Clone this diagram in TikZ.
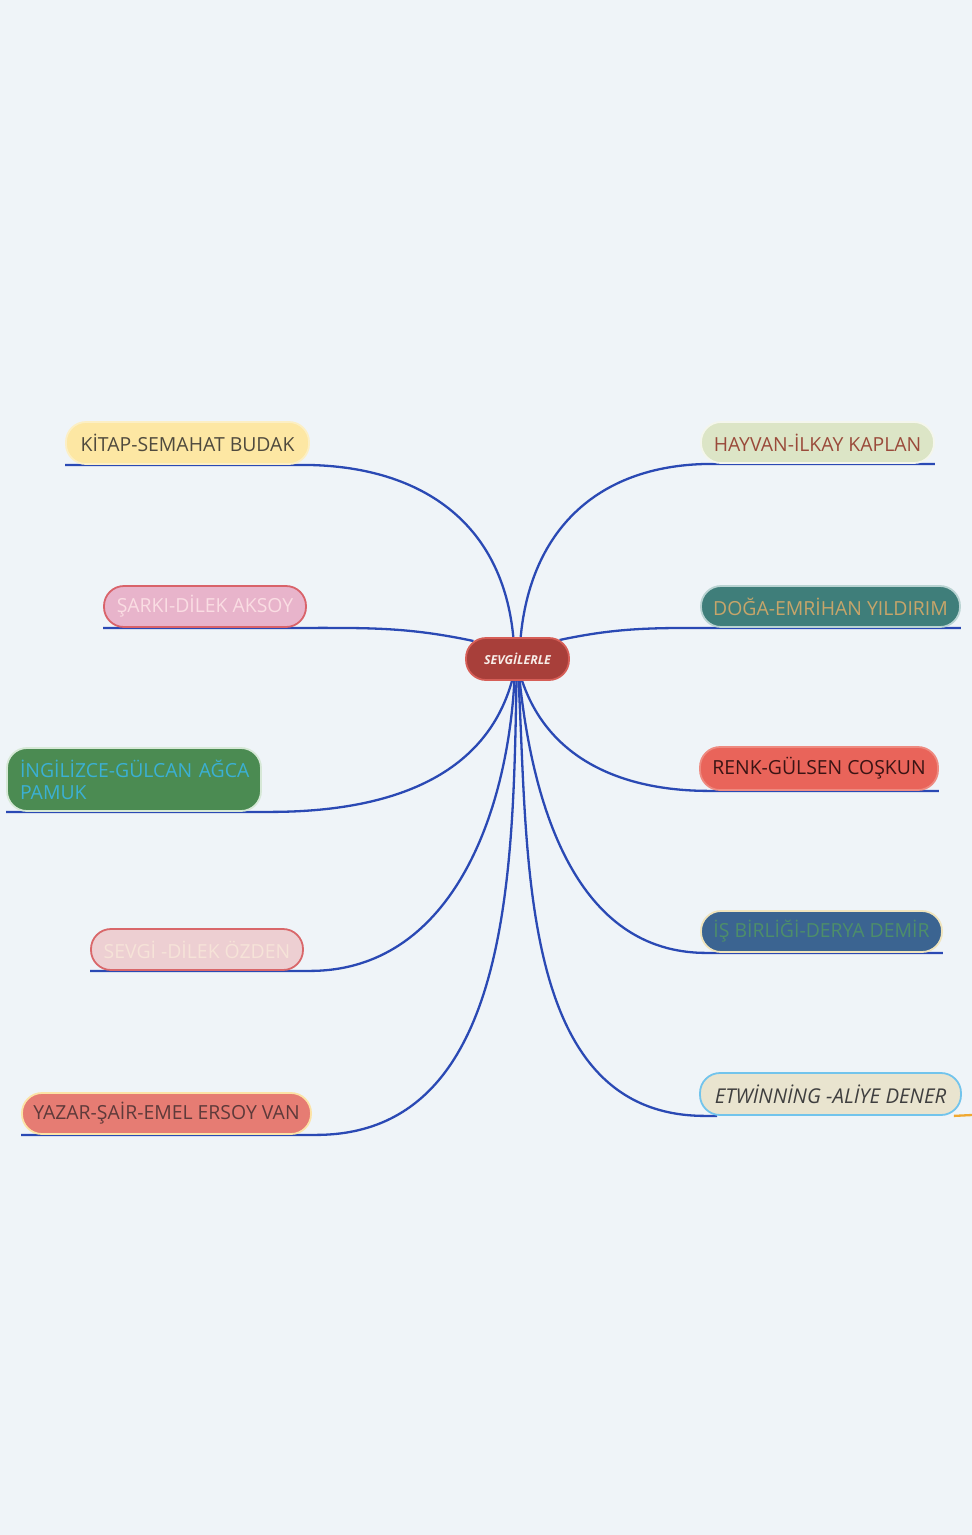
\documentclass[tikz,border=0pt]{standalone}
\usepackage{fontspec}
\setmainfont{Open Sans}
\usetikzlibrary{calc}
\definecolor{bg}{HTML}{EFF4F8}
\definecolor{link}{HTML}{2A49B4}
\definecolor{orng}{HTML}{F0A830}
\definecolor{kitF}{HTML}{FDE7A3}\definecolor{kitD}{HTML}{FCEFC4}\definecolor{kitT}{HTML}{4F4A3E}
\definecolor{hayF}{HTML}{DCE5C6}\definecolor{hayD}{HTML}{F4F6EC}\definecolor{hayT}{HTML}{9A4A3A}
\definecolor{sarF}{HTML}{E8B4CB}\definecolor{sarD}{HTML}{D9636A}\definecolor{sarT}{HTML}{FADDE3}
\definecolor{dogF}{HTML}{3F7E7A}\definecolor{dogD}{HTML}{B9D3D2}\definecolor{dogT}{HTML}{C7A56A}
\definecolor{ingF}{HTML}{4B8B52}\definecolor{ingD}{HTML}{D6E8D6}\definecolor{ingT}{HTML}{3BB0D4}
\definecolor{renF}{HTML}{E9645A}\definecolor{renD}{HTML}{EE8A80}\definecolor{renT}{HTML}{3A1414}
\definecolor{sevF}{HTML}{EDCFD2}\definecolor{sevD}{HTML}{D9676A}\definecolor{sevT}{HTML}{F6E3D8}
\definecolor{isF}{HTML}{3B6491}\definecolor{isD}{HTML}{F0E4BC}\definecolor{isT}{HTML}{4D8E6A}
\definecolor{yazF}{HTML}{E67C73}\definecolor{yazD}{HTML}{FCE3A6}\definecolor{yazT}{HTML}{5E3A3A}
\definecolor{etwF}{HTML}{E9E4CF}\definecolor{etwD}{HTML}{72C4EC}\definecolor{etwT}{HTML}{3F3F3F}
\definecolor{cF}{HTML}{A83F3A}\definecolor{cD}{HTML}{D65E57}\definecolor{cT}{HTML}{F7EDE8}
\pgfdeclarelayer{back}\pgfdeclarelayer{links}
\pgfsetlayers{back,links,main}
\begin{document}
\begin{tikzpicture}[x=1pt,y=1pt,
  box/.style={rounded corners=20pt, line width=1.8pt, inner sep=0pt, font=\fontsize{19.4}{23}\selectfont},
  conn/.style={draw=link, line width=2.3pt},
]
\begin{pgfonlayer}{back}
\fill[bg] (0,0) rectangle (972,-1535);
\end{pgfonlayer}
\useasboundingbox (0,0) rectangle (972,-1535);

\node[box, fill=cF, draw=cD, text=cT, minimum width=103pt, minimum height=42pt, font=\fontsize{12.4}{14}\selectfont\bfseries\itshape] (c) at (517.5,-659) {SEVGİLERLE};
\node[box, fill=kitF, draw=kitD, text=kitT, minimum width=243pt, minimum height=42pt] (kit) at (187.5,-443) {KİTAP-SEMAHAT BUDAK};
\node[box, fill=hayF, draw=hayD, text=hayT, minimum width=233pt, minimum height=41pt] (hay) at (817.5,-442.5) {HAYVAN-İLKAY KAPLAN};
\node[box, fill=sarF, draw=sarD, text=sarT, minimum width=202pt, minimum height=41pt] (sar) at (205,-606.5) {ŞARKI-DİLEK AKSOY};
\node[box, fill=dogF, draw=dogD, text=dogT, minimum width=259pt, minimum height=41pt] (dog) at (830.5,-606.5) {DOĞA-EMRİHAN YILDIRIM};
\node[box, fill=ingF, draw=ingD, text=ingT, text width=228pt, inner xsep=13pt, align=left, minimum height=63pt, font=\fontsize{19.4}{22}\selectfont] (ing) at (134,-779.5) {\mbox{İNGİLİZCE-GÜLCAN AĞCA}\\PAMUK};
\node[box, fill=renF, draw=renD, text=renT, minimum width=238pt, minimum height=43pt] (ren) at (819,-768.5) {RENK-GÜLSEN COŞKUN};
\node[box, fill=sevF, draw=sevD, text=sevT, minimum width=212pt, minimum height=41pt] (sev) at (197,-949.5) {SEVGİ -DİLEK ÖZDEN};
\node[box, fill=isF, draw=isD, text=isT, minimum width=241pt, minimum height=41pt] (is) at (821.5,-931.5) {İŞ BİRLİĞİ-DERYA DEMİR};
\node[box, fill=yazF, draw=yazD, text=yazT, minimum width=289pt, minimum height=41pt] (yaz) at (166.5,-1113.5) {YAZAR-ŞAİR-EMEL ERSOY VAN};
\node[box, fill=etwF, draw=etwD, text=etwT, minimum width=261pt, minimum height=42pt, font=\fontsize{20.4}{24}\selectfont\itshape] (etw) at (830.5,-1094) {ETWİNNİNG -ALİYE DENER};
\coordinate (orEnd) at (972,-1115);

\begin{pgfonlayer}{links}
\draw[conn] ($(c)+(-4,20)$) to[out=95,in=0,looseness=1.1] ([xshift=-8pt]kit.south east) -- (kit.south west);
\draw[conn] ($(c)+(3,20)$) to[out=85,in=180,looseness=1.1] ([xshift=12pt]hay.south west) -- (hay.south east);
\draw[conn] ($(c)+(-44,18)$) to[out=168,in=0,looseness=1] ([xshift=-6pt]sar.south east) -- (sar.south west);
\draw[conn] ($(c)+(42,19)$) to[out=12,in=180,looseness=1] ([xshift=10pt]dog.south west) -- (dog.south east);
\draw[conn] ($(c)+(-5,-20)$) to[out=-105,in=0,looseness=1] ([xshift=8pt]ing.south east) -- (ing.south west);
\draw[conn] ($(c)+(4,-20)$) to[out=-72,in=180,looseness=1] ([xshift=10pt]ren.south west) -- (ren.south east);
\draw[conn] ($(c)+(-3,-20)$) to[out=-93,in=0,looseness=1] ([xshift=6pt]sev.south east) -- (sev.south west);
\draw[conn] ($(c)+(2,-20)$) to[out=-84,in=180,looseness=1] ([xshift=6pt]is.south west) -- (is.south east);
\draw[conn] ($(c)+(-1,-20)$) to[out=-91,in=0,looseness=1] ([xshift=4pt]yaz.south east) -- (yaz.south west);
\draw[conn] ($(c)+(1,-20)$) to[out=-87,in=180,looseness=1] ([xshift=6pt]etw.south west) -- ([xshift=18pt]etw.south west);
\draw[draw=orng, line width=2.3pt] ([xshift=-8pt]etw.south east) -- (orEnd);
\end{pgfonlayer}
\end{tikzpicture}
\end{document}
